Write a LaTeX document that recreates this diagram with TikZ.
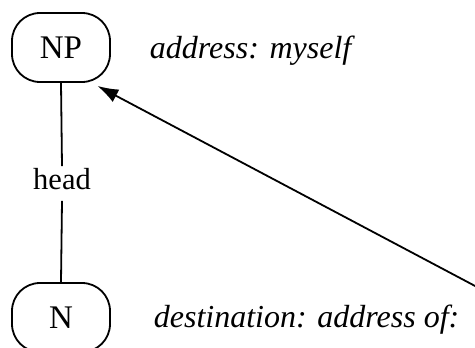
\documentclass[tikz,border=0pt]{standalone}
\usepackage{fontspec}
\setmainfont{Liberation Serif}
\usetikzlibrary{arrows.meta}
\begin{document}
\begin{tikzpicture}[x=1pt,y=-1pt,line width=1.8pt,
  box/.style={draw, rounded corners=28pt, minimum width=98pt, minimum height=69pt, inner sep=0pt, font=\fontsize{33}{39}\selectfont},
  note/.style={anchor=base west, inner sep=0pt, font=\fontsize{32}{38}\selectfont\itshape}]
\useasboundingbox (0,0) rectangle (475,348);
\node[box] (NP) at (61,47.5) {NP};
\node[box] (N) at (61,317.5) {N};
\node[anchor=base, inner sep=0pt, text height=22pt, text depth=11pt, font=\fontsize{30.5}{36}\selectfont] (lab) at (62,189) {head};
\draw (NP.south) -- (lab.north);
\draw (lab.south) -- (N.north);
\node[note] (t1) at (149,58) {address: myself};
\node[note] (t2) at (153,327) {destination: address of:};
\coordinate (src) at (477,287);
\draw[-{Latex[length=21pt,width=14pt]}] (src) -- ([shift={(-13.5,3)}]NP.south east);
\end{tikzpicture}
\end{document}
